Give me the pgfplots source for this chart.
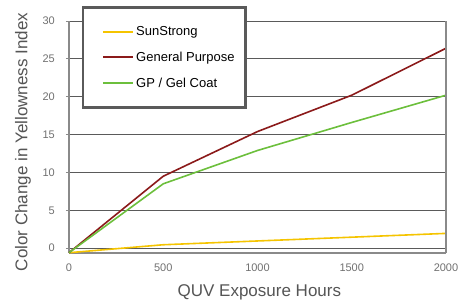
\documentclass[border=0pt]{standalone}
\usepackage{pgfplots}
\pgfplotsset{compat=1.18}
\usepackage{fontspec}
\setmainfont{Liberation Sans}
\definecolor{sunyellow}{HTML}{F5C400}
\definecolor{gpred}{HTML}{8B1A1A}
\definecolor{gelgreen}{HTML}{6CBF3C}
\definecolor{tickc}{HTML}{707070}
\definecolor{labc}{HTML}{555555}
\definecolor{gridc}{HTML}{5A5A5A}
\definecolor{axc}{HTML}{8A8A8A}
\begin{document}
\begin{tikzpicture}[x=1pt,y=1pt]
\path[use as bounding box] (-69,-48.3) rectangle (403,252.7);
\begin{axis}[
  at={(0,0)}, anchor=south west,
  scale only axis, width=377pt, height=231.7pt,
  xmin=0, xmax=2000, ymin=-0.6, ymax=30,
  xtick={0,500,1000,1500,2000},
  ytick={0,5,10,15,20,25,30},
  axis x line*=bottom, axis y line*=left,
  hide obscured x ticks=false, hide obscured y ticks=false,
  axis line style={draw=axc, line width=1.6pt},
  x axis line style={-}, y axis line style={-},
  ymajorgrids, grid style={draw=gridc, line width=0.8pt},
  tick align=outside, major tick length=3pt,
  tick style={color=axc, line width=1pt},
  xtick style={draw=none},
  /pgf/number format/assume math mode=true,
  /pgf/number format/set thousands separator={},
  tick label style={font=\fontsize{11}{13}\selectfont, text=tickc},
  yticklabel style={anchor=east, inner sep=0pt, xshift=-11pt},
  xticklabel style={anchor=center, inner sep=0pt, yshift=-12pt},
  xlabel={QUV Exposure Hours},
  ylabel={Color Change in Yellowness Index},
  label style={font=\fontsize{17}{20}\selectfont, text=labc},
  xlabel style={at={(axis description cs:0.505,-0.17)}, anchor=center},
  ylabel style={at={(axis description cs:-0.122,0.478)}, anchor=center},
  clip=false,
  legend cell align=left,
  legend style={at={(rel axis cs:0,1)}, anchor=north west, xshift=13pt, yshift=15pt,
    draw=gridc, line width=2.5pt, inner xsep=9pt, inner ysep=17pt, row sep=11pt,
    font=\fontsize{13}{15}\selectfont, text=black},
  legend image code/.code={\path (0pt,0pt); \draw[#1] (10pt,0pt) -- (40pt,0pt);},
]
\addlegendimage{draw=sunyellow, color=sunyellow, line width=2pt}
\addlegendentry{SunStrong}
\addlegendimage{draw=gpred, line width=1.6pt}
\addlegendentry{General Purpose}
\addlegendimage{draw=gelgreen, line width=1.6pt}
\addlegendentry{GP / Gel Coat}
\addplot[draw=sunyellow, line width=1.6pt, forget plot] coordinates {(0,-0.6) (500,0.45) (1000,0.95) (1500,1.45) (2000,1.95)};
\addplot[draw=gpred, line width=1.6pt, forget plot] coordinates {(0,-0.6) (500,9.5) (1000,15.4) (1500,20.2) (2000,26.4)};
\addplot[draw=gelgreen, line width=1.6pt, forget plot] coordinates {(0,-0.6) (500,8.5) (1000,12.9) (1500,16.6) (2000,20.2)};
\draw[axc, line width=1.6pt] (rel axis cs:1,0) -- (rel axis cs:1,1);
\end{axis}
\end{tikzpicture}
\end{document}
